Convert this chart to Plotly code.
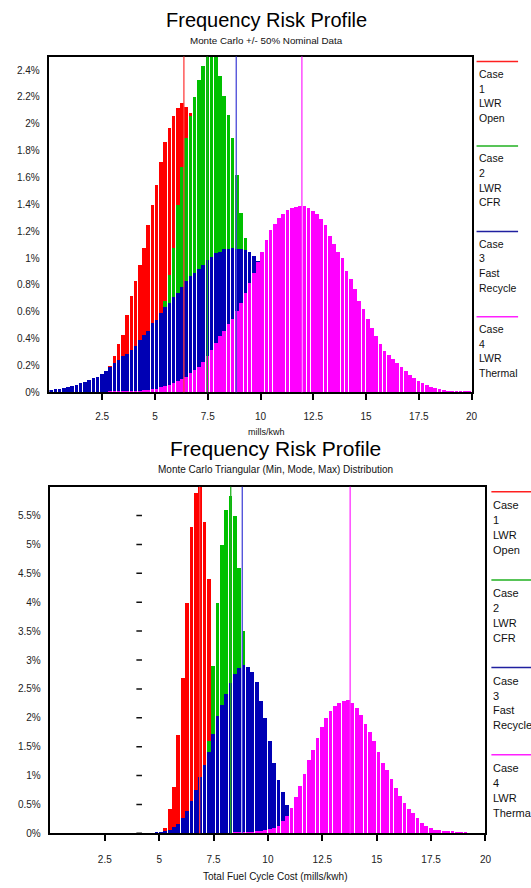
import plotly.graph_objects as go

# ---------------- data (percent of trials per bin) ----------------
bin_width = 0.2
case_names = [["Case", "1", "LWR", "Open"], ["Case", "2", "LWR", "CFR"],
              ["Case", "3", "Fast", "Recycle"], ["Case", "4", "LWR", "Thermal"]]
bar_colors = ["#ff0000", "#00c000", "#0000b4", "#ff00ff"]
line_colors = ["#ff4040", "#20b020", "#4848d8", "#ff30ff"]
legend_colors = ["#ff2020", "#20b020", "#2020a0", "#ff20ff"]

# Chart 1: Monte Carlo +/- 50% nominal data
top_case1_start = 1.1
top_case1 = [0.01, 0.015, 0.02, 0.03, 0.04, 0.05, 0.07, 0.10, 0.14, 0.20,
             0.27, 0.36, 0.43, 0.58, 0.72, 0.83, 0.95, 1.08, 1.25, 1.40,
             1.55, 1.72, 1.87, 1.97, 2.06, 2.12, 2.16, 2.13, 2.08, 1.99,
             1.89, 1.77, 1.63, 1.44, 1.28, 1.12, 0.98, 0.81, 0.67, 0.53,
             0.42, 0.34, 0.26, 0.19, 0.14, 0.10, 0.07, 0.05, 0.03, 0.02, 0.01]
top_case2_start = 3.3
top_case2 = [0.01, 0.02, 0.04, 0.07, 0.10, 0.15, 0.21, 0.29, 0.38, 0.47,
             0.56, 0.68, 0.88, 1.08, 1.40, 1.68, 1.90, 2.06, 2.20, 2.33,
             2.43, 2.50, 2.56, 2.55, 2.36, 2.21, 2.07, 1.90, 1.62, 1.34,
             1.15, 0.98, 0.80, 0.64, 0.50, 0.38, 0.28, 0.20, 0.14, 0.09,
             0.06, 0.04, 0.02, 0.01]
top_case3_start = 0.1
top_case3 = [0.02, 0.025, 0.03, 0.037, 0.045, 0.05, 0.06, 0.07, 0.08, 0.095,
             0.11, 0.12, 0.14, 0.165, 0.19, 0.22, 0.24, 0.27, 0.29, 0.32,
             0.35, 0.39, 0.43, 0.46, 0.52, 0.54, 0.59, 0.64, 0.67, 0.71,
             0.74, 0.79, 0.83, 0.87, 0.89, 0.92, 0.95, 0.99, 1.01, 1.04,
             1.05, 1.07, 1.07, 1.08, 1.07, 1.07, 1.06, 1.05, 1.02, 0.98,
             0.96, 0.95, 0.93, 0.91, 0.86, 0.82, 0.79, 0.76, 0.70, 0.65,
             0.61, 0.56, 0.51, 0.49, 0.46, 0.42, 0.39, 0.35, 0.31, 0.27,
             0.25, 0.22, 0.19, 0.17, 0.15, 0.13, 0.115, 0.10, 0.09, 0.085,
             0.07, 0.055, 0.05, 0.04, 0.035, 0.03, 0.025, 0.02, 0.018, 0.015,
             0.012, 0.01, 0.008]
top_case4_start = 2.1
top_case4 = [0.003, 0.003, 0.004, 0.005, 0.006, 0.007, 0.008, 0.009, 0.01, 0.012,
             0.014, 0.016, 0.018, 0.021, 0.025, 0.03, 0.04, 0.05, 0.06, 0.075,
             0.09, 0.105, 0.12, 0.145, 0.17, 0.19, 0.23, 0.27, 0.32, 0.37,
             0.42, 0.46, 0.51, 0.55, 0.61, 0.67, 0.74, 0.82, 0.89, 0.97,
             1.05, 1.14, 1.21, 1.26, 1.30, 1.33, 1.36, 1.375, 1.385, 1.39,
             1.39, 1.375, 1.35, 1.33, 1.29, 1.25, 1.17, 1.11, 1.05, 1.00,
             0.91, 0.85, 0.77, 0.68, 0.62, 0.55, 0.48, 0.42, 0.36, 0.31,
             0.28, 0.25, 0.22, 0.19, 0.16, 0.13, 0.11, 0.09, 0.07, 0.055,
             0.042, 0.033, 0.025, 0.02, 0.015, 0.012, 0.01, 0.008, 0.007, 0.006]
top_markers = [6.37, 7.48, 8.85, 11.96]

# Chart 2: Monte Carlo triangular (min, mode, max) distribution
bot_case1_start = 4.9
bot_case1 = [0.01, 0.03, 0.10, 0.42, 0.80, 1.70, 2.70, 4.00, 5.30, 5.90,
             6.05, 5.40, 4.40, 2.80, 1.50, 0.60, 0.20, 0.06, 0.02]
bot_case2_start = 6.5
bot_case2 = [0.05, 0.15, 0.40, 0.90, 1.60, 2.90, 4.00, 5.00, 5.60, 5.84,
             5.50, 4.60, 3.50, 2.50, 1.50, 0.80, 0.35, 0.12, 0.04]
bot_case3_start = 4.9
bot_case3 = [0.02, 0.03, 0.04, 0.07, 0.11, 0.17, 0.27, 0.40, 0.56, 0.76,
             0.98, 1.19, 1.42, 1.72, 2.03, 2.22, 2.42, 2.60, 2.76, 2.86,
             2.92, 2.89, 2.79, 2.62, 2.30, 2.00, 1.60, 1.22, 0.93, 0.72,
             0.50, 0.28, 0.16, 0.09, 0.06, 0.03, 0.015]
bot_case4_start = 7.9
bot_case4 = [0.005, 0.008, 0.01, 0.012, 0.015, 0.018, 0.022, 0.03, 0.04, 0.05,
             0.06, 0.075, 0.10, 0.14, 0.22, 0.31, 0.45, 0.63, 0.82, 1.03,
             1.28, 1.44, 1.65, 1.85, 2.00, 2.12, 2.21, 2.26, 2.29, 2.31,
             2.26, 2.18, 2.05, 1.90, 1.76, 1.60, 1.41, 1.23, 1.10, 0.94,
             0.79, 0.66, 0.53, 0.43, 0.35, 0.27, 0.19, 0.13, 0.09, 0.07,
             0.055, 0.05, 0.045, 0.04, 0.035, 0.03, 0.025]
bot_markers = [6.86, 8.29, 8.82, 13.78]
bot_dash_x = 4.08
bot_dash_levels = [0, 0.5, 1, 1.5, 2, 2.5, 3, 3.5, 4, 4.5, 5, 5.5]

x_tickvals = [2.5, 5, 7.5, 10, 12.5, 15, 17.5, 20]
x_ticktext = ["2.5", "5", "7.5", "10", "12.5", "15", "17.5", "20"]
top_y_tickvals = [0, 0.2, 0.4, 0.6, 0.8, 1, 1.2, 1.4, 1.6, 1.8, 2, 2.2, 2.4]
top_y_ticktext = ["0%", "0.2%", "0.4%", "0.6%", "0.8%", "1%", "1.2%", "1.4%",
                  "1.6%", "1.8%", "2%", "2.2%", "2.4%"]
bot_y_tickvals = [0, 0.5, 1, 1.5, 2, 2.5, 3, 3.5, 4, 4.5, 5, 5.5]
bot_y_ticktext = ["0%", "0.5%", "1%", "1.5%", "2%", "2.5%", "3%", "3.5%",
                  "4%", "4.5%", "5%", "5.5%"]

# ---------------- layout helpers ----------------
W, H = 531, 888
FONT = "Arial, 'Liberation Sans', sans-serif"


def fx(p):
    return p / W


def fy(p):
    return 1 - p / H


fig = go.Figure()

top_series = [(top_case1_start, top_case1), (top_case2_start, top_case2),
              (top_case3_start, top_case3), (top_case4_start, top_case4)]
bot_series = [(bot_case1_start, bot_case1), (bot_case2_start, bot_case2),
              (bot_case3_start, bot_case3), (bot_case4_start, bot_case4)]

BAR_FRAC = 0.86

for (start, vals), col in zip(top_series, bar_colors):
    xs = [round(start + i * bin_width, 3) for i in range(len(vals))]
    fig.add_trace(go.Bar(x=xs, y=vals, width=bin_width * BAR_FRAC,
                         marker=dict(color=col, line=dict(width=0)),
                         xaxis="x", yaxis="y", showlegend=False, hoverinfo="skip"))

for (start, vals), col in zip(bot_series, bar_colors):
    xs = [round(start + i * bin_width, 3) for i in range(len(vals))]
    fig.add_trace(go.Bar(x=xs, y=vals, width=bin_width * BAR_FRAC,
                         marker=dict(color=col, line=dict(width=0)),
                         xaxis="x2", yaxis="y2", showlegend=False, hoverinfo="skip"))

fig.add_trace(go.Scatter(x=[bot_dash_x] * len(bot_dash_levels), y=bot_dash_levels,
                         mode="markers", xaxis="x2", yaxis="y2", showlegend=False,
                         hoverinfo="skip",
                         marker=dict(symbol="line-ew", size=4,
                                     line=dict(width=1.5, color="#111111"))))

shapes = []
for xv, col in zip(top_markers, line_colors):
    shapes.append(dict(type="line", xref="x", yref="y domain", x0=xv, x1=xv, y0=0, y1=1,
                       line=dict(color=col, width=1.3), layer="above"))
for xv, col in zip(bot_markers, line_colors):
    shapes.append(dict(type="line", xref="x2", yref="y2 domain", x0=xv, x1=xv, y0=0, y1=1,
                       line=dict(color=col, width=1.3), layer="above"))

annotations = []


def text(x, y, s, size, anchor="center", color="#111111"):
    annotations.append(dict(x=fx(x), y=fy(y), xref="paper", yref="paper", text=s,
                            showarrow=False, xanchor=anchor, yanchor="middle",
                            font=dict(family=FONT, size=size, color=color)))


# titles
text(270, 20, "Frequency Risk Profile", 20, color="#000000")
text(270, 41, "Monte Carlo +/- 50% Nominal Data", 9.8)
text(270, 435, "mills/kwh", 9)
text(279, 452, "Frequency Risk Profile", 21, color="#000000")
text(279, 473, "Monte Carlo Triangular (Min, Mode, Max) Distribution", 10)
text(278, 882, "Total Fuel Cycle Cost (mills/kwh)", 10)

# legends (right side)
top_leg_y = [62, 147, 233, 319]
bot_leg_y = [495, 584, 672, 760]
for names, ly, col in zip(case_names, top_leg_y, legend_colors):
    shapes.append(dict(type="line", xref="paper", yref="paper", x0=fx(482), x1=fx(524),
                       y0=fy(ly), y1=fy(ly), line=dict(color=col, width=1.5)))
    for i, nm in enumerate(names):
        text(482, ly + 12.5 + 14.7 * i, nm, 10.5, anchor="left")
for names, ly, col in zip(case_names, bot_leg_y, legend_colors):
    shapes.append(dict(type="line", xref="paper", yref="paper", x0=fx(497), x1=fx(540),
                       y0=fy(ly), y1=fy(ly), line=dict(color=col, width=1.5)))
    for i, nm in enumerate(names):
        text(497, ly + 13.3 + 15 * i, nm, 11, anchor="left")

axis_common = dict(showgrid=False, zeroline=False, showline=True, linecolor="#000000",
                   linewidth=1.5, mirror=True,
                   tickfont=dict(family=FONT, size=10, color="#222222"))

fig.update_layout(
    width=W, height=H, autosize=False,
    margin=dict(l=0, r=0, t=0, b=0),
    paper_bgcolor="white", plot_bgcolor="white",
    barmode="overlay", bargap=0,
    showlegend=False,
    xaxis=dict(domain=[fx(50), fx(477)], range=[0, 20], anchor="y",
               tickvals=x_tickvals, ticktext=x_ticktext, ticks="outside",
               ticklen=6, tickwidth=1.5, tickcolor="#000000", ticklabelstandoff=8,
               **axis_common),
    yaxis=dict(domain=[fy(395), fy(57)], range=[0, 2.5], anchor="x",
               tickvals=top_y_tickvals, ticktext=top_y_ticktext, ticks="",
               ticklabelstandoff=6, **axis_common),
    xaxis2=dict(domain=[fx(51), fx(491)], range=[0, 20], anchor="y2",
                tickvals=x_tickvals, ticktext=x_ticktext, ticks="outside",
                ticklen=6, tickwidth=1.5, tickcolor="#000000", ticklabelstandoff=10,
                **axis_common),
    yaxis2=dict(domain=[fy(839), fy(490)], range=[0, 6], anchor="x2",
                tickvals=bot_y_tickvals, ticktext=bot_y_ticktext, ticks="",
                ticklabelstandoff=6, **axis_common),
    shapes=shapes,
    annotations=annotations,
)

fig.write_html("out.html", config={"displayModeBar": False},
               post_script="document.body.style.margin='0';document.body.style.overflow='hidden';")
